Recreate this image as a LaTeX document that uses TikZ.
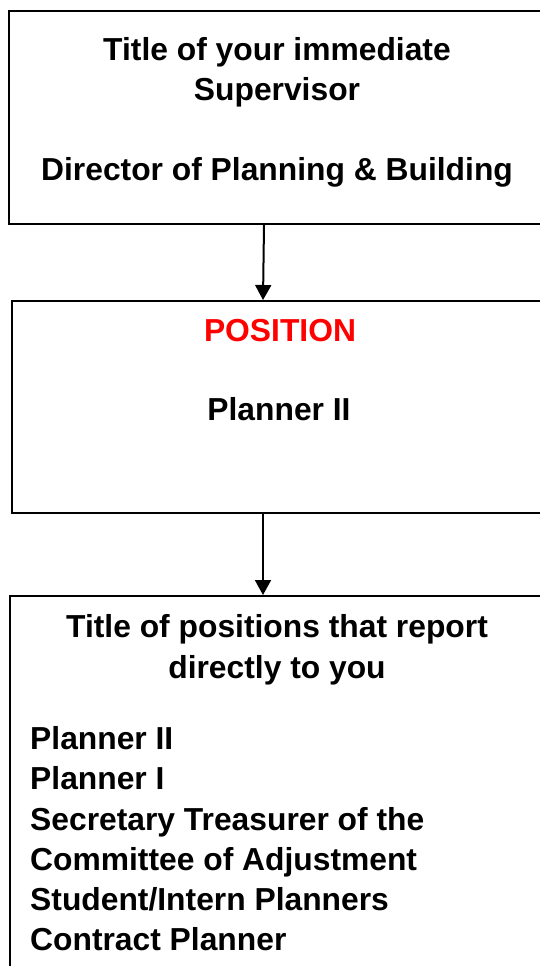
\documentclass[tikz,border=0pt]{standalone}
\usepackage{fontspec}
\setmainfont{Liberation Sans}
\usetikzlibrary{arrows.meta}
\begin{document}
\begin{tikzpicture}[x=1pt,y=-1pt,
  box/.style={draw=black, line width=2pt, inner sep=0pt, anchor=north west},
  lbl/.style={font=\fontsize{31.8}{40}\selectfont\bfseries, inner sep=0pt, anchor=base},
  item/.style={lbl, anchor=base west},
  link/.style={line width=2pt, -{Triangle[width=16pt,length=15pt]}}]
\useasboundingbox (0,0) rectangle (540,966);
\clip (0,0) rectangle (540,966);
\node[box, minimum width=540pt, minimum height=213pt] (sup) at (8,10) {};
\node[box, minimum width=540pt, minimum height=212pt] (pos) at (11,300) {};
\node[box, minimum width=540pt, minimum height=400pt] (rep) at (9,595) {};
\draw[link] ([xshift=256pt]sup.south west) -- ([xshift=252pt]pos.north west);
\draw[link] ([xshift=252pt]pos.south west) -- ([xshift=254pt]rep.north west);
\node[lbl] (t1) at (277,60) {Title of your immediate};
\node[lbl] (t2) at (277,100) {Supervisor};
\node[lbl] (t3) at (277,180) {Director of Planning \& Building};
\node[lbl, text=red] (p1) at (280,341) {POSITION};
\node[lbl] (p2) at (279,420) {Planner II};
\node[lbl] (r1) at (277,637) {Title of positions that report};
\node[lbl] (r2) at (277,678) {directly to you};
\node[item] (i1) at (30,749) {Planner II};
\node[item] (i2) at (30,789) {Planner I};
\node[item] (i3) at (30,830) {Secretary Treasurer of the};
\node[item] (i4) at (30,870) {Committee of Adjustment};
\node[item] (i5) at (30,910) {Student/Intern Planners};
\node[item] (i6) at (30,950) {Contract Planner};
\end{tikzpicture}
\end{document}
